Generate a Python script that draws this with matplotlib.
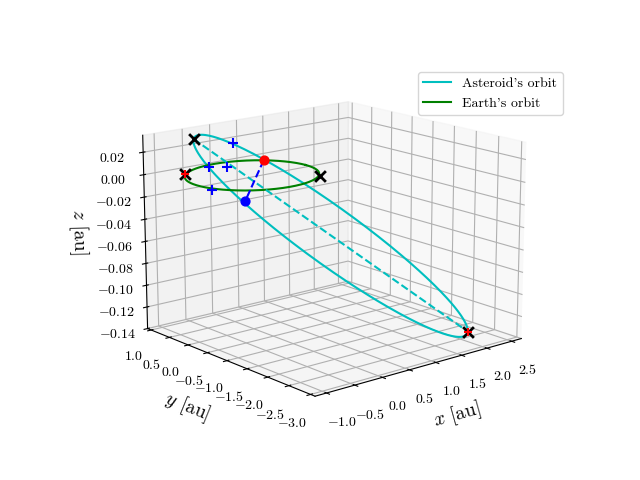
import numpy as np
import matplotlib
matplotlib.use("Agg")
import matplotlib.pyplot as plt

plt.rcParams['font.family'] = 'serif'
plt.rcParams['font.serif'] = ['cmr10']
plt.rcParams['mathtext.fontset'] = 'cm'
plt.rcParams['axes.formatter.use_mathtext'] = True

# asteroid orbit described by perihelion, aphelion and minor-axis half vector
perihelion = np.array([-0.7, 0.5, 0.033])
aphelion = np.array([2.15, -2.5, -0.135])
minor_half = np.array([-0.45, -0.45, -0.018])
earth_radius = 1.0

earth_pos = [0.72, 0.7, 0.0]
ast_pos = [-0.45, -0.45, -0.014]
earth_nodes = [[0.72, -0.72, 0.0], [-0.72, 0.72, 0.0]]
blue_plus = [[-0.2, 0.2, 0.028], [-0.6, 0.25, 0.01], [-0.4, 0.08, 0.01], [-0.8, -0.1, -0.005]]

theta = np.linspace(0, 2 * np.pi, 400)
center = (perihelion + aphelion) / 2
half_major = (aphelion - perihelion) / 2
orbit = center[:, None] + np.outer(half_major, -np.cos(theta)) + np.outer(minor_half, np.sin(theta))

fig = plt.figure(figsize=(6.4, 4.8))
ax = fig.add_subplot(projection='3d')
ax.view_init(elev=15, azim=-130)
ax.set_box_aspect(None, zoom=1.13)

ax.plot(orbit[0], orbit[1], orbit[2], c='c', label="Asteroid's orbit")
ax.plot(earth_radius * np.cos(theta), earth_radius * np.sin(theta), 0 * theta, c='g', label="Earth's orbit")
ax.plot(*zip(perihelion, aphelion), c='c', ls='--')
ax.plot(*zip(earth_pos, ast_pos), c='b', ls='--')
ax.scatter(*earth_pos, c='r', s=40, depthshade=False)
ax.scatter(*ast_pos, c='b', s=40, depthshade=False)
for p in [perihelion, aphelion] + earth_nodes:
    ax.scatter(*p, c='k', marker='x', s=60, linewidths=2, depthshade=False)
for p in [aphelion, earth_nodes[1]]:
    ax.scatter(*p, c='r', marker='+', s=40, depthshade=False)
for p in blue_plus:
    ax.scatter(*p, c='b', marker='+', s=50, linewidths=1.5, depthshade=False)

ax.set_xlim(-1.2, 2.7)
ax.set_ylim(-3.1, 1.1)
ax.set_zlim(-0.14, 0.035)
ax.set_xticks(np.arange(-1.0, 2.51, 0.5))
ax.set_yticks(np.arange(-3.0, 1.01, 0.5))
ax.set_zticks(np.arange(-0.14, 0.021, 0.02))
ax.set_xlabel('$x$ [au]', fontsize=14)
ax.set_ylabel('$y$ [au]', fontsize=14)
ax.set_zlabel('$z$ [au]', fontsize=14)
ax.legend(loc='upper right', bbox_to_anchor=(0.89, 0.865), bbox_transform=fig.transFigure)
fig.savefig('out.png', dpi=100)
